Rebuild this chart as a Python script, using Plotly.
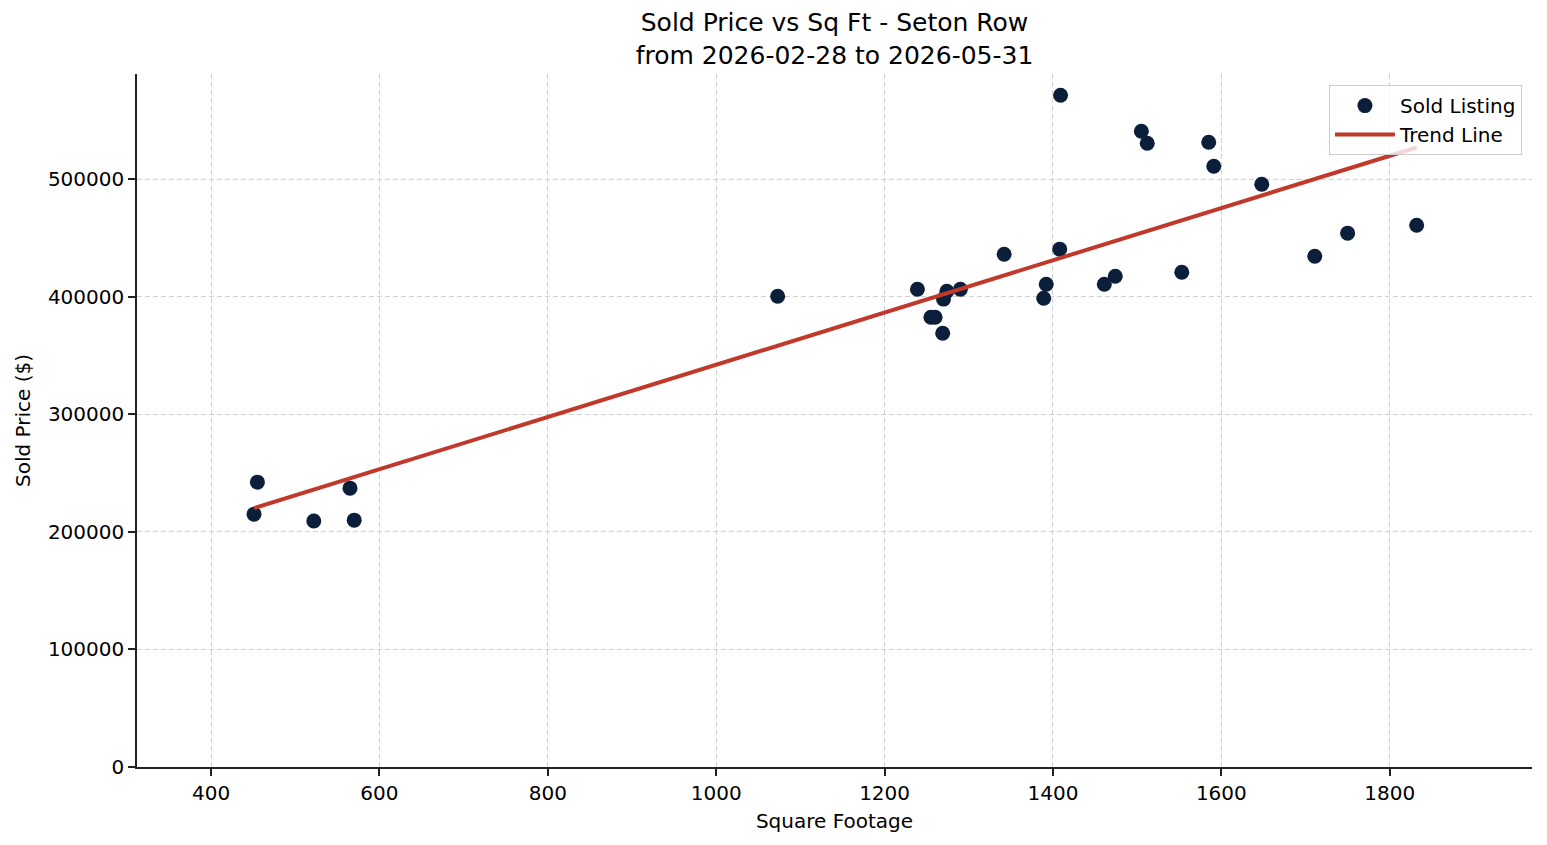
import plotly.graph_objects as go

# Data
sq_ft = [451, 455, 522, 565, 570, 1073, 1239, 1255, 1260, 1269, 1270, 1274, 1290,
         1342, 1389, 1392, 1408, 1409, 1461, 1474, 1505, 1512, 1553, 1585, 1591,
         1648, 1711, 1750, 1832]
sold_price = [215100, 242300, 209200, 237200, 210000, 400500, 406400, 382600, 382600,
              369000, 398000, 404700, 406400, 436200, 398800, 410700, 440500, 571400,
              410700, 417500, 540800, 530600, 420900, 531400, 511000, 495700, 434500,
              454100, 460900]

trend_x = [451, 1832]
trend_y = [220200, 527000]

title_lines = ["Sold Price vs Sq Ft - Seton Row", "from 2026-02-28 to 2026-05-31"]
x_label = "Square Footage"
y_label = "Sold Price ($)"
x_ticks = [400, 600, 800, 1000, 1200, 1400, 1600, 1800]
y_ticks = [0, 100000, 200000, 300000, 400000, 500000]

FONT = "DejaVu Sans"

fig = go.Figure()
fig.add_trace(go.Scatter(
    x=sq_ft, y=sold_price, mode="markers", name="Sold Listing",
    marker=dict(color="#0b1f3a", size=15, line=dict(width=0)),
))
fig.add_trace(go.Scatter(
    x=trend_x, y=trend_y, mode="lines", name="Trend Line",
    line=dict(color="#c0392b", width=4),
))

axis_common = dict(
    showline=True, linecolor="#222222", linewidth=1.5,
    ticks="outside", ticklen=7, tickwidth=1.5, tickcolor="#222222",
    showgrid=True, gridcolor="rgba(190,190,190,0.7)", gridwidth=0.8, griddash="5px,3px",
    zeroline=False,
    tickfont=dict(family=FONT, size=20, color="black"),
)

fig.update_layout(
    width=1547, height=845,
    margin=dict(l=137, r=15, t=74, b=78),
    paper_bgcolor="white", plot_bgcolor="white",
    font=dict(family=FONT, size=20, color="black"),
    title=dict(
        text="<br>".join(title_lines),
        x=0.5, xref="paper", xanchor="center",
        y=1, yref="paper", yanchor="bottom",
        pad=dict(b=43),
        font=dict(family=FONT, size=25, color="black"),
    ),
    xaxis=dict(
        range=[312, 1969], tickvals=x_ticks,
        title=dict(text=x_label, font=dict(family=FONT, size=20, color="black"), standoff=10),
        **axis_common,
    ),
    yaxis=dict(
        range=[0, 589500], tickvals=y_ticks, tickformat="d",
        title=dict(text=y_label, font=dict(family=FONT, size=20, color="black"), standoff=12),
        **axis_common,
    ),
    legend=dict(
        x=0.9928, xanchor="right", y=0.984, yanchor="top",
        bgcolor="rgba(255,255,255,0.8)", bordercolor="#cccccc", borderwidth=1,
        font=dict(family=FONT, size=20, color="black"),
        itemwidth=60,
    ),
    showlegend=True,
)

fig.write_html("out.html")
